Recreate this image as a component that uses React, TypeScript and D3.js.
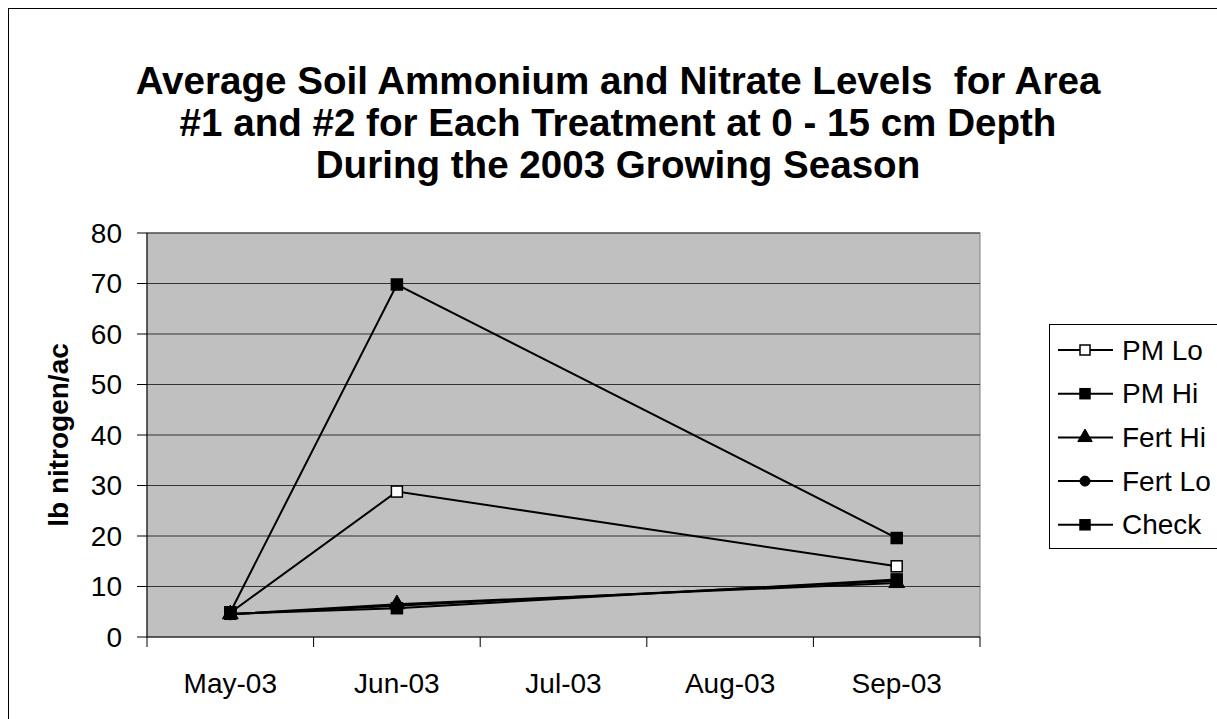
import React from "react";
import * as d3 from "d3";

const categories = ["May-03", "Jun-03", "Jul-03", "Aug-03", "Sep-03"];
const yTicks = [0, 10, 20, 30, 40, 50, 60, 70, 80];
const seriesNames = ["PM Lo", "PM Hi", "Fert Hi", "Fert Lo", "Check"];
const pmLo: (number | null)[] = [4.8, 28.8, null, null, 14.0];
const pmHi: (number | null)[] = [4.9, 69.8, null, null, 19.6];
const fertHi: (number | null)[] = [4.5, 6.5, null, null, 10.7];
const fertLo: (number | null)[] = [4.5, 6.2, null, null, 11.1];
const check: (number | null)[] = [4.6, 5.7, null, null, 11.4];
const markerTypes = ["openSquare", "square", "triangle", "circle", "square"];
const titleLines = [
  "Average Soil Ammonium and Nitrate Levels  for Area",
  "#1 and #2 for Each Treatment at 0 - 15 cm Depth",
  "During the 2003 Growing Season",
];

const W = 1217;
const H = 719;
const plot = { left: 147, right: 980, top: 233, bottom: 637 };

function Marker({ type, x, y, s }: { type: string; x: number; y: number; s: number }) {
  if (type === "openSquare" || type === "square") {
    return (
      <rect
        x={x - s / 2}
        y={y - s / 2}
        width={s}
        height={s}
        fill={type === "openSquare" ? "#fff" : "#000"}
        stroke="#000"
        strokeWidth={1.5}
      />
    );
  }
  if (type === "triangle") {
    const sym = d3.symbol(d3.symbolTriangle, s * s * 0.9)();
    return <path d={sym || ""} transform={`translate(${x},${y})`} fill="#000" stroke="#000" />;
  }
  return <circle cx={x} cy={y} r={s / 2} fill="#000" stroke="#000" />;
}

export default function App() {
  const allSeries = [pmLo, pmHi, fertHi, fertLo, check];
  const x = d3.scalePoint<string>().domain(categories).range([plot.left, plot.right]).padding(0.5);
  const band = d3.scaleBand<string>().domain(categories).range([plot.left, plot.right]);
  const y = d3.scaleLinear().domain([0, 80]).range([plot.bottom, plot.top]);
  const line = d3
    .line<{ c: string; v: number }>()
    .x((d) => x(d.c) as number)
    .y((d) => y(d.v));

  const xTickPos = categories.map((c) => band(c) as number).concat([plot.right]);
  const font = "'Liberation Sans', Arial, sans-serif";
  const legendX = 1049;
  const legendTop = 324;
  const rowGap = 43.7;

  return (
    <svg
      width={W}
      height={H}
      style={{ position: "absolute", left: 0, top: 0, background: "#fff" }}
      fontFamily={font}
    >
      <rect x={8.5} y={8.5} width={1400} height={900} fill="#fff" stroke="#000" strokeWidth={1} />
      {titleLines.map((t, i) => (
        <text
          key={i}
          x={618}
          y={94 + i * 42}
          textAnchor="middle"
          fontWeight="bold"
          fontSize={38.6}
          fill="#000"
          style={{ whiteSpace: "pre" }}
        >
          {t}
        </text>
      ))}
      <rect
        x={plot.left}
        y={plot.top}
        width={plot.right - plot.left}
        height={plot.bottom - plot.top}
        fill="#C0C0C0"
        stroke="#808080"
        strokeWidth={1}
      />
      {yTicks.map((t) => (
        <g key={t}>
          {t > 0 && (
            <line x1={plot.left} x2={plot.right} y1={y(t)} y2={y(t)} stroke="#333" strokeWidth={1} />
          )}
          <line x1={plot.left - 10} x2={plot.left} y1={y(t)} y2={y(t)} stroke="#000" />
          <text
            x={122}
            y={y(t)}
            textAnchor="end"
            dominantBaseline="central"
            fontSize={28}
            fill="#000"
          >
            {t}
          </text>
        </g>
      ))}
      <line x1={plot.left} x2={plot.left} y1={plot.top} y2={plot.bottom} stroke="#000" />
      <line x1={plot.left} x2={plot.right} y1={plot.bottom} y2={plot.bottom} stroke="#000" />
      {xTickPos.map((p, i) => (
        <line key={i} x1={p} x2={p} y1={plot.bottom} y2={plot.bottom + 10} stroke="#000" />
      ))}
      {categories.map((c) => (
        <text
          key={c}
          x={x(c)}
          y={683}
          textAnchor="middle"
          dominantBaseline="central"
          fontSize={28}
          fill="#000"
        >
          {c}
        </text>
      ))}
      <text
        transform={`translate(58,${(plot.top + plot.bottom) / 2}) rotate(-90)`}
        textAnchor="middle"
        dominantBaseline="central"
        fontWeight="bold"
        fontSize={28}
        fill="#000"
      >
        lb nitrogen/ac
      </text>
      {allSeries.map((s, si) => {
        const pts = s
          .map((v, i) => ({ c: categories[i], v: v as number }))
          .filter((d, i) => s[i] !== null);
        return (
          <g key={si}>
            <path d={line(pts) || ""} fill="none" stroke="#000" strokeWidth={2} />
            {pts.map((d, i) => (
              <Marker key={i} type={markerTypes[si]} x={x(d.c) as number} y={y(d.v)} s={11} />
            ))}
          </g>
        );
      })}
      <rect x={legendX + 0.5} y={legendTop + 0.5} width={400} height={224} fill="#fff" stroke="#000" />
      {seriesNames.map((n, i) => {
        const ry = legendTop + 26 + i * rowGap;
        return (
          <g key={n}>
            <line x1={1058} x2={1113} y1={ry} y2={ry} stroke="#000" strokeWidth={2} />
            <Marker type={markerTypes[i]} x={1085} y={ry} s={10} />
            <text x={1122} y={ry} dominantBaseline="central" fontSize={28} fill="#000">
              {n}
            </text>
          </g>
        );
      })}
    </svg>
  );
}
